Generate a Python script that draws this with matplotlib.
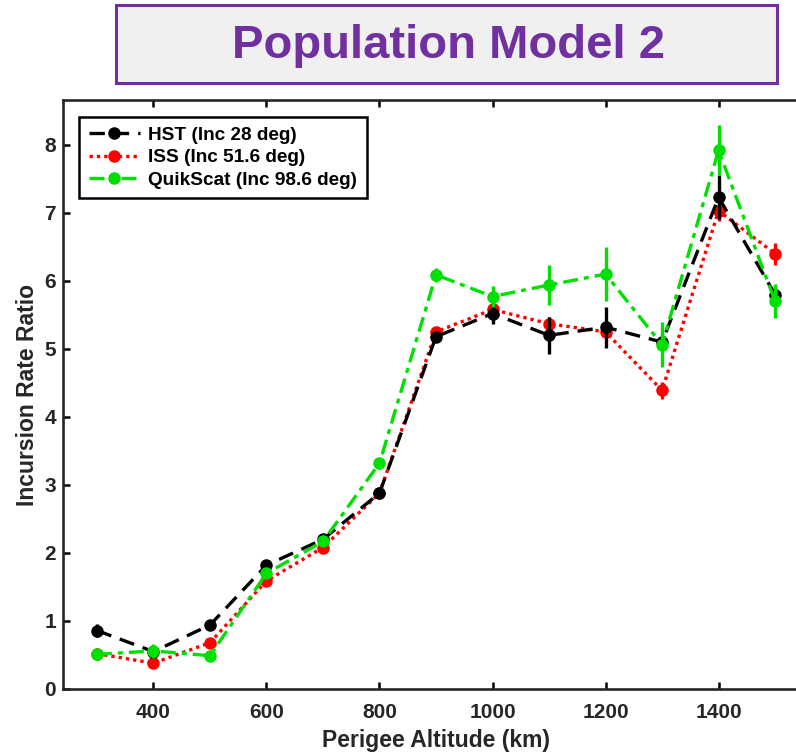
import matplotlib
matplotlib.use("Agg")
import matplotlib.pyplot as plt
from matplotlib.patches import Rectangle

# ---- data ----
altitude = [300, 400, 500, 600, 700, 800, 900, 1000, 1100, 1200, 1300, 1400, 1500]

hst = [0.86, 0.55, 0.94, 1.82, 2.20, 2.88, 5.18, 5.52, 5.20, 5.32, 5.10, 7.23, 5.80]
hst_err = [0.10, 0.05, 0.06, 0.06, 0.05, 0.06, 0.07, 0.15, 0.27, 0.30, 0.12, 0.32, 0.12]

iss = [0.52, 0.38, 0.68, 1.59, 2.08, 2.88, 5.25, 5.58, 5.37, 5.25, 4.39, 7.03, 6.40]
iss_err = [0.04, 0.05, 0.06, 0.05, 0.05, 0.05, 0.06, 0.07, 0.10, 0.08, 0.12, 0.15, 0.16]

quik = [0.51, 0.56, 0.49, 1.70, 2.17, 3.32, 6.09, 5.77, 5.94, 6.10, 5.06, 7.92, 5.70]
quik_err = [0.04, 0.10, 0.05, 0.06, 0.06, 0.08, 0.10, 0.16, 0.30, 0.40, 0.33, 0.37, 0.25]

labels = ["HST (Inc 28 deg)", "ISS (Inc 51.6 deg)", "QuikScat (Inc 98.6 deg)"]
x_ticks = [400, 600, 800, 1000, 1200, 1400]
y_ticks = [0, 1, 2, 3, 4, 5, 6, 7, 8]
title = "Population Model 2"

plt.rcParams['font.family'] = ['Liberation Sans', 'DejaVu Sans']
plt.rcParams['font.weight'] = 'bold'

W, H = 796, 752
fig = plt.figure(figsize=(W / 100, H / 100), dpi=100)
fig.patch.set_facecolor('white')

# title box
fig.patches.append(Rectangle((116 / W, 1 - 83 / H), (777 - 116) / W, 78 / H,
                             transform=fig.transFigure, facecolor='#f0f0f0',
                             edgecolor='#7030a0', linewidth=2.2, zorder=0))
fig.text(448 / W, 1 - 46 / H, title, ha='center', va='center', color='#7030a0',
         fontsize=34, fontweight='bold')

ax_left, ax_top, ax_bottom = 63, 100, 689
ax_w = 746
ax = fig.add_axes([ax_left / W, 1 - ax_bottom / H, ax_w / W, (ax_bottom - ax_top) / H])

lw = 2.4
ms = 8
series = [
    (hst, hst_err, 'black', (0, (4.6, 2.7)), 3, labels[0]),
    (iss, iss_err, '#ff0000', (0, (1.0, 1.2)), 2, labels[1]),
    (quik, quik_err, '#00e000', (0, (4.5, 1.8, 1.5, 1.8)), 4, labels[2]),
]
handles = []
for y, e, c, ls, z, lab in series:
    ax.errorbar(altitude, y, yerr=e, fmt='none', ecolor=c, elinewidth=2.4,
                capsize=0, zorder=z)
    h, = ax.plot(altitude, y, color=c, linestyle=ls, linewidth=lw, marker='o',
                 markersize=ms, markerfacecolor=c, markeredgecolor=c, zorder=z,
                 label=lab)
    handles.append(h)

ax.set_xlim(240, 1560)
ax.set_ylim(0, 8.66)
ax.set_xticks(x_ticks)
ax.set_yticks(y_ticks)
ax.tick_params(direction='in', length=5, width=1.8, labelsize=15, top=True, right=True)
ax.tick_params(axis='x', pad=10)
ax.tick_params(axis='y', pad=5)
for lab in ax.get_xticklabels() + ax.get_yticklabels():
    lab.set_fontweight('bold')
    lab.set_color('#262626')
for s in ax.spines.values():
    s.set_linewidth(1.9)
    s.set_color('#262626')

ax.set_xlabel("Perigee Altitude (km)", fontsize=16.5, fontweight='bold',
              color='#262626', va='center')
ax.xaxis.set_label_coords(0.5, (ax_bottom - 740) / (ax_bottom - ax_top))
ax.set_ylabel("Incursion Rate Ratio", fontsize=16.5, fontweight='bold',
              color='#262626', va='center')
ax.yaxis.set_label_coords((28 - ax_left) / ax_w, 0.5)

leg = ax.legend(handles=handles, loc='upper left',
                bbox_to_anchor=((79 - ax_left) / ax_w, 1 - 17 / (ax_bottom - ax_top)),
                borderaxespad=0, prop={'weight': 'bold', 'size': 13.7},
                handlelength=2.7, handletextpad=0.45, labelspacing=0.27,
                borderpad=0.5, fancybox=False, framealpha=1, numpoints=1)
leg.get_frame().set_edgecolor('black')
leg.get_frame().set_linewidth(1.8)
leg.set_zorder(10)

fig.savefig("out.png", dpi=100)
